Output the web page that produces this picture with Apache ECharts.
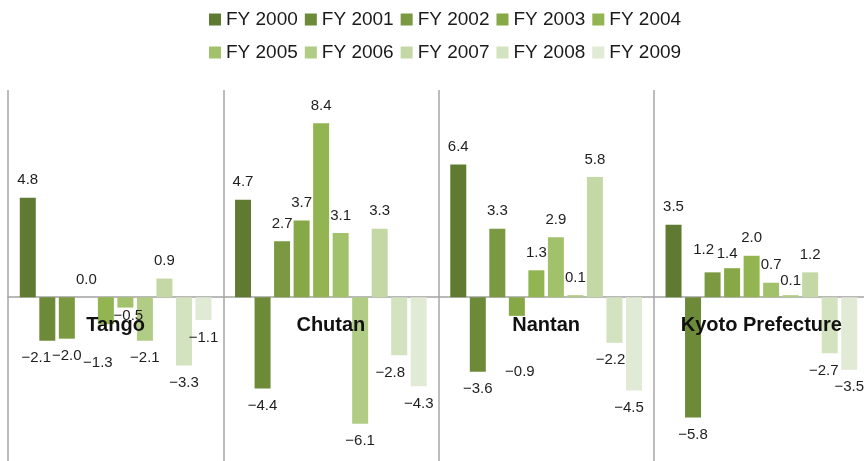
<!DOCTYPE html>
<html>
<head>
<meta charset="utf-8">
<script src="https://cdn.jsdelivr.net/npm/echarts@6/dist/echarts.min.js"></script>
<style>
  html, body { margin: 0; padding: 0; background: #fff; }
  #chart { width: 864px; height: 461px; }
</style>
</head>
<body>
<div id="chart"></div>
<script>
// Regions on the category axis
const regions = ['Tango', 'Chutan', 'Nantan', 'Kyoto Prefecture'];
// Fiscal years (one bar series each)
const years = ['FY 2000', 'FY 2001', 'FY 2002', 'FY 2003', 'FY 2004',
               'FY 2005', 'FY 2006', 'FY 2007', 'FY 2008', 'FY 2009'];

// Year-on-year change (%) per region, FY 2000 .. FY 2009
const tango  = [4.8, -2.1, -2.0, 0.0, -1.3, -0.5, -2.1, 0.9, -3.3, -1.1];
const chutan = [4.7, -4.4, 2.7, 3.7, 8.4, 3.1, -6.1, 3.3, -2.8, -4.3];
const nantan = [6.4, -3.6, 3.3, -0.9, 1.3, 2.9, 0.1, 5.8, -2.2, -4.5];
const kyoto  = [3.5, -5.8, 1.2, 1.4, 2.0, 0.7, 0.1, 1.2, -2.7, -3.5];

const regionValues = [tango, chutan, nantan, kyoto];

// Green ramp, darkest for the earliest year
const colors = ['#5f7a31', '#6d8a38', '#7a9941', '#87a847', '#92b551',
                '#a2c16b', '#b1cc85', '#c3d8a5', '#d3e2bf', '#e1ead5'];

// Small label nudges [dx, dy] to keep crowded value labels readable
const labelNudges = {
  '0-1': [-11, 0], '0-4': [-8, 21], '0-5': [3, -9],
  '1-8': [-9, 0],
  '2-3': [3, 38], '2-8': [-4, 0], '2-9': [-5, 0],
  '3-2': [-9, -5], '3-3': [-5, 3], '3-6': [0, 3], '3-8': [-6, 0]
};

const FONT = '"Liberation Sans", Arial, Helvetica, sans-serif';

function fmt(v) {
  const s = Math.abs(v).toFixed(1);
  return v < 0 ? '\u2212' + s : s;
}

const series = years.map((name, yi) => ({
  name: name,
  type: 'bar',
  barWidth: 16,
  barGap: '22%',
  itemStyle: { color: colors[yi] },
  label: {
    show: true,
    fontFamily: FONT,
    fontSize: 15,
    color: '#1e1e1e',
    distance: 10,
    formatter: p => fmt(p.value)
  },
  data: regionValues.map((vals, ri) => {
    const v = vals[yi];
    const nudge = labelNudges[ri + '-' + yi] || [0, 0];
    return {
      value: v,
      label: { position: v < 0 ? 'bottom' : 'top', offset: nudge }
    };
  })
}));

// Region names sit just under the zero line, centred on each group
series.push({
  name: 'region-names',
  type: 'scatter',
  symbol: 'circle',
  symbolSize: 1,
  silent: true,
  z: 20,
  itemStyle: { color: 'rgba(255,255,255,0)', opacity: 1 },
  label: {
    show: true,
    position: 'bottom',
    distance: 18,
    fontFamily: FONT,
    fontSize: 20,
    fontWeight: 'bold',
    color: '#111111',
    opacity: 1,
    textBorderWidth: 0,
    formatter: p => p.name
  },
  data: regions.map(r => ({ name: r, value: [r, 0] }))
});

const legendBase = {
  left: 204,
  orient: 'horizontal',
  icon: 'rect',
  itemWidth: 12,
  itemHeight: 12,
  itemGap: 7,
  selectedMode: false,
  textStyle: { fontFamily: FONT, fontSize: 19, color: '#1a1a1a' }
};

const chart = echarts.init(document.getElementById('chart'), null, { renderer: 'canvas' });
chart.setOption({
  animation: false,
  backgroundColor: '#ffffff',
  legend: [
    Object.assign({}, legendBase, { top: 5, data: years.slice(0, 5) }),
    Object.assign({}, legendBase, { top: 38, data: years.slice(5) })
  ],
  grid: {
    left: 8, right: -5, top: 90, bottom: -2,
    containLabel: false, outerBoundsMode: 'none'
  },
  xAxis: {
    type: 'category',
    data: regions,
    boundaryGap: true,
    axisLine: { onZero: true, lineStyle: { color: '#a3a3a3', width: 1.5 } },
    axisTick: { show: false },
    axisLabel: { show: false },
    splitLine: { show: true, lineStyle: { color: '#bdbdbd', width: 2 } }
  },
  yAxis: {
    type: 'value',
    min: -8,
    max: 10,
    axisLine: { show: false },
    axisTick: { show: false },
    axisLabel: { show: false },
    splitLine: { show: false }
  },
  series: series
});
</script>
</body>
</html>
